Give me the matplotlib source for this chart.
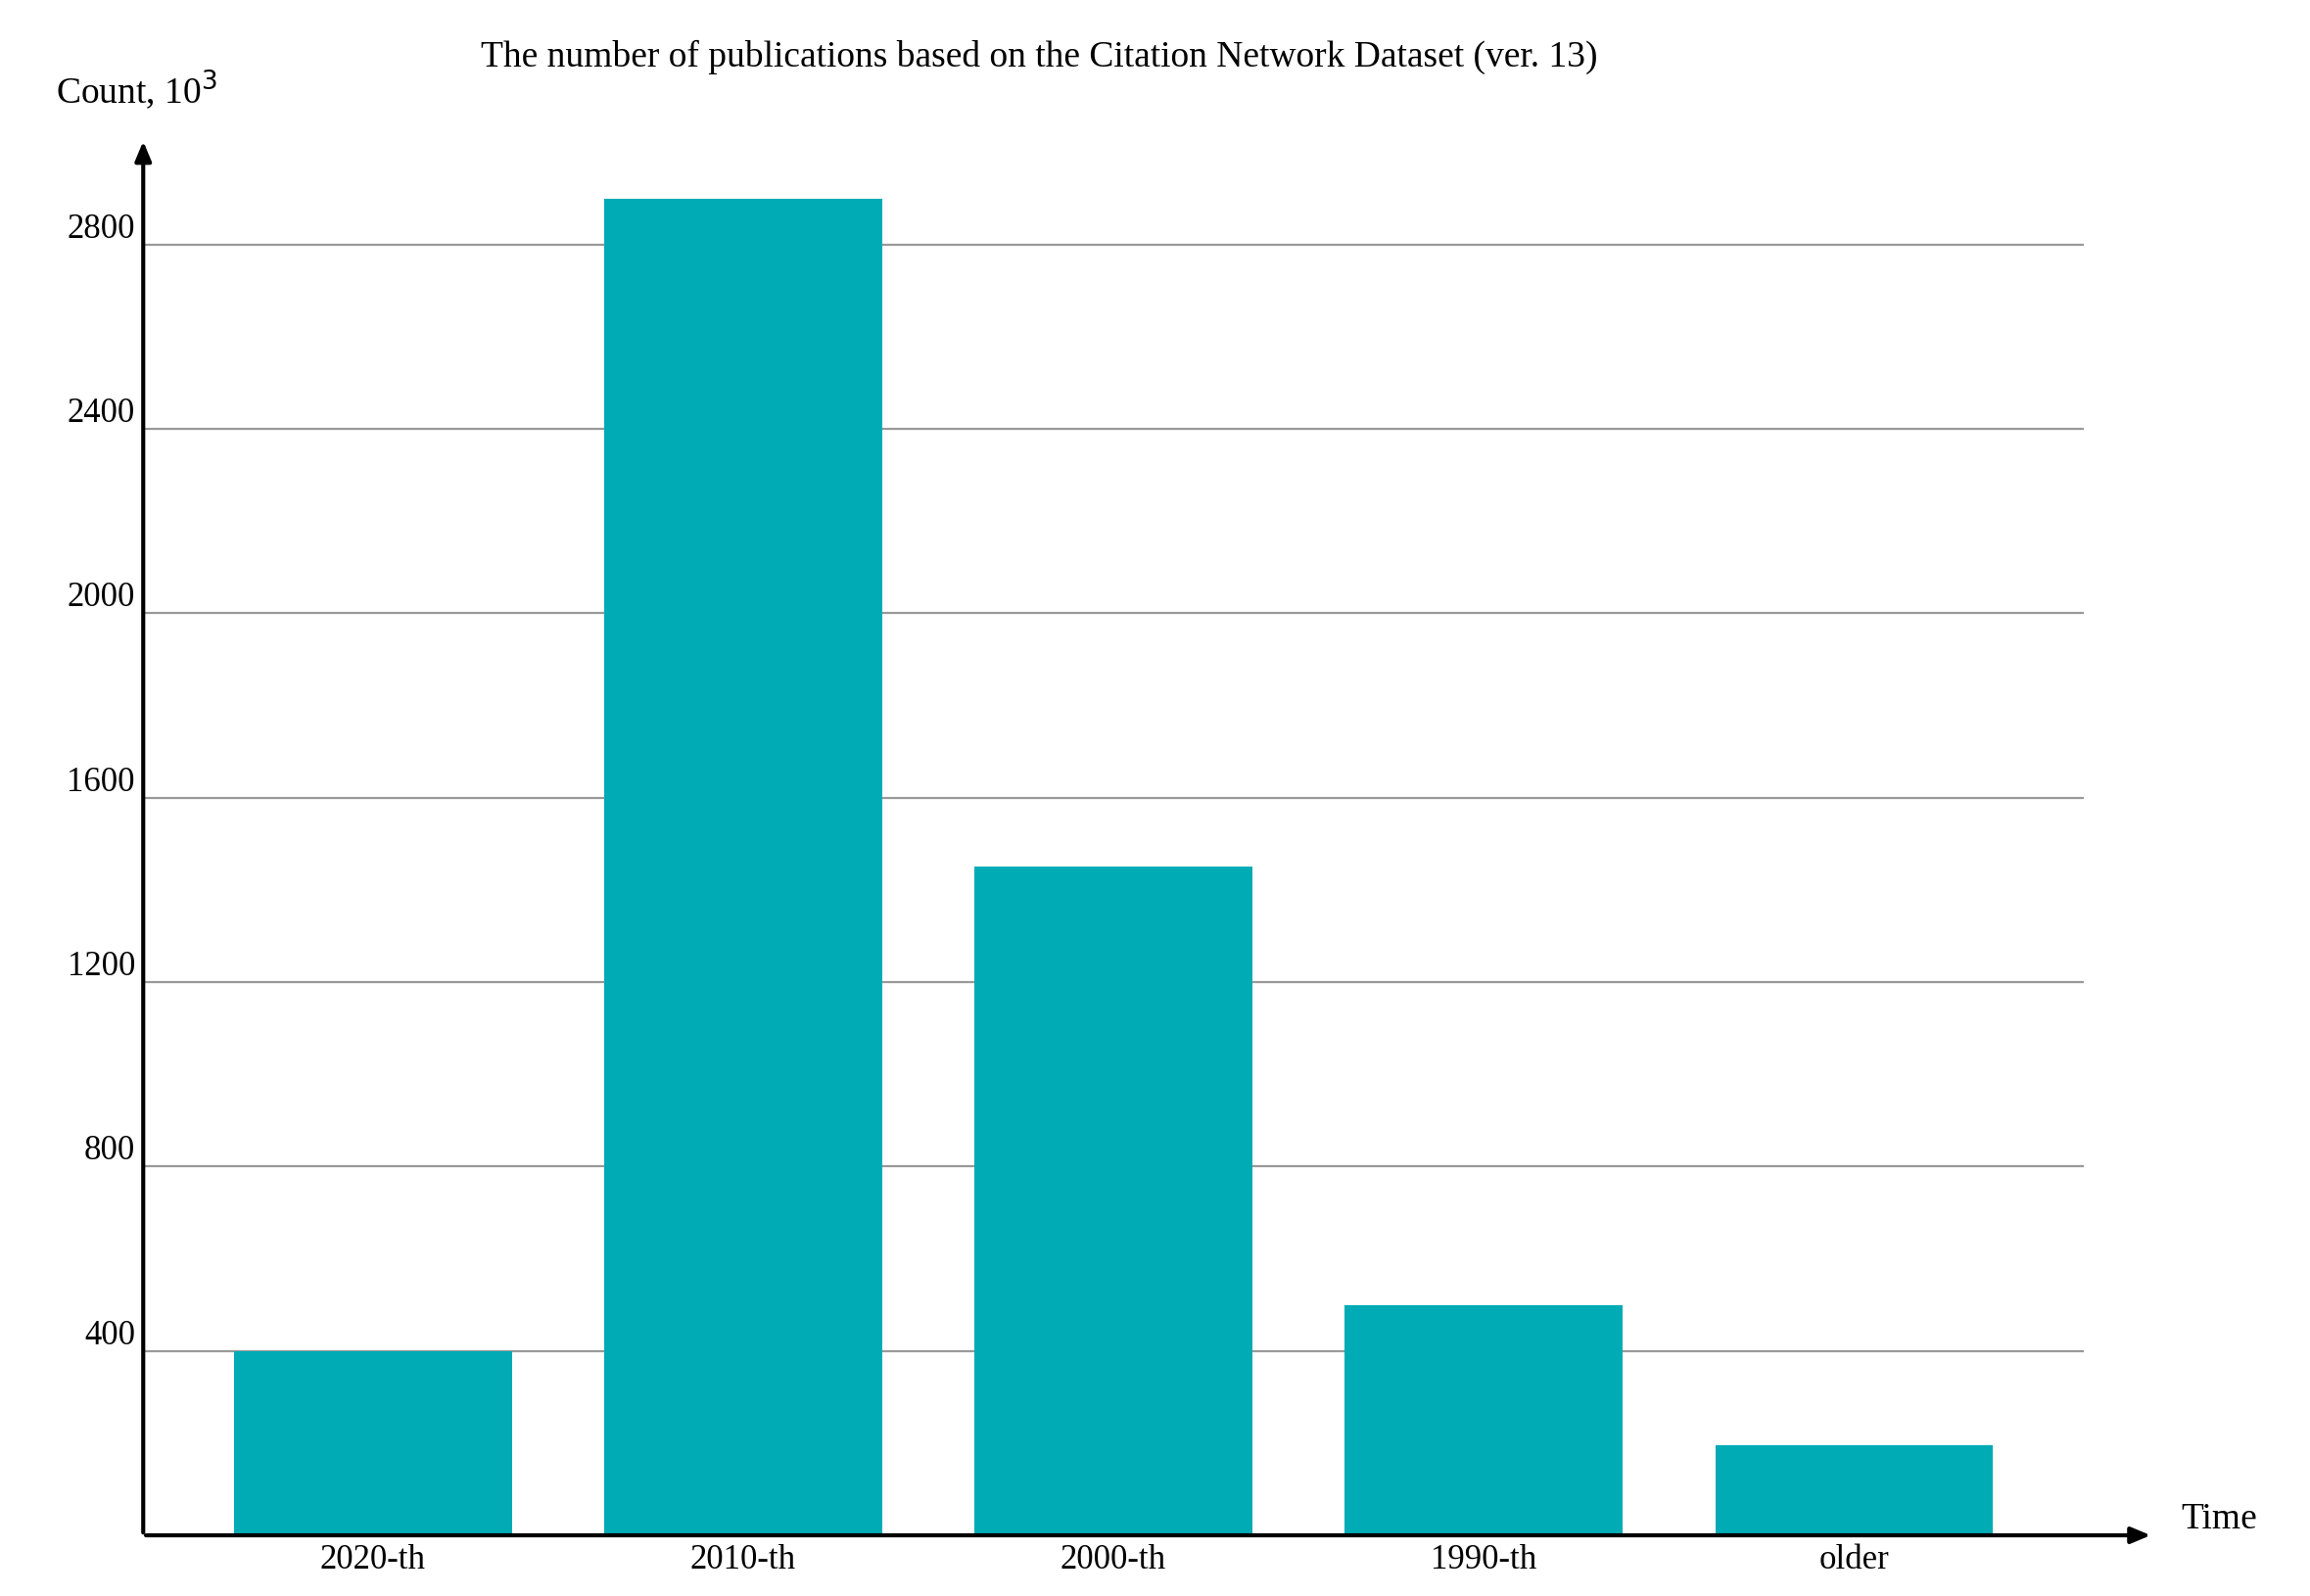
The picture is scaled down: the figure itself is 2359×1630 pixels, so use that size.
import matplotlib.pyplot as plt
import numpy as np

plt.rcParams['font.family'] = ['Liberation Serif', 'DejaVu Serif']

periods = ['2020-th', '2010-th', '2000-th', '1990-th', 'older']
counts = [400, 2900, 1450, 500, 195]
yticks = [400, 800, 1200, 1600, 2000, 2400, 2800]

fig = plt.figure(figsize=(23.59, 16.31), dpi=100)
ax = fig.add_axes([0.062, 0.038, 0.840, 0.866])

x = np.arange(len(periods))
ax.bar(x, counts, width=0.75, color='#00abb6', zorder=2)
for t in yticks:
    ax.axhline(t, color='#999999', lw=1.6, zorder=1)

ax.set_xlim(-0.62, 4.62)
ax.set_ylim(0, 3000)
ax.set_xticks(x)
ax.set_xticklabels(periods, fontsize=25)
ax.set_yticks(yticks)
ax.set_yticklabels([str(t) for t in yticks], fontsize=25)
ax.tick_params(length=0, pad=6)
for lbl in ax.get_yticklabels():
    lbl.set_verticalalignment('bottom')
for s in ax.spines.values():
    s.set_visible(False)

ax.annotate('', xy=(1.036, 0), xytext=(0, 0), xycoords='axes fraction',
            arrowprops=dict(arrowstyle='-|>,head_length=1.2,head_width=0.5', lw=3, color='black'))
ax.annotate('', xy=(0, 1.01), xytext=(0, 0), xycoords='axes fraction',
            arrowprops=dict(arrowstyle='-|>,head_length=1.2,head_width=0.5', lw=3, color='black'))
ax.text(1.05, 0.0, 'Time', transform=ax.transAxes, fontsize=27, va='bottom', ha='left')
ax.text(-0.045, 1.03, 'Count, 10$^3$', transform=ax.transAxes, fontsize=27, va='bottom', ha='left')

fig.text(0.45, 0.975, 'The number of publications based on the Citation Network Dataset (ver. 13)',
         ha='center', va='top', fontsize=27)

fig.savefig('out.png', dpi=100)
